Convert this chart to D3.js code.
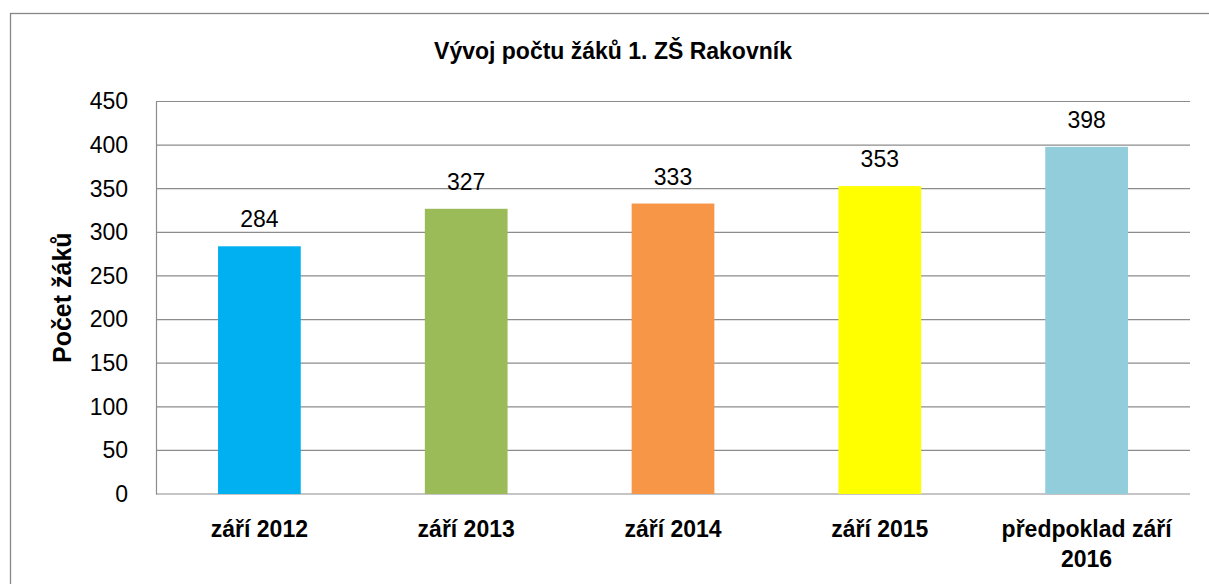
<!DOCTYPE html>
<html>
<head>
<meta charset="utf-8">
<script src="https://cdn.jsdelivr.net/npm/d3@7"></script>
<style>
  body { margin: 0; background: #fff; }
  text { font-family: "Liberation Sans", Arial, sans-serif; fill: #000; }
</style>
</head>
<body>
<script>
// Data
var categories = ['září 2012', 'září 2013', 'září 2014', 'září 2015', 'předpoklad září|2016'];
var values = [284, 327, 333, 353, 398];
var barColors = ['#00B0F0', '#9BBB59', '#F79646', '#FFFF00', '#92CDDC'];
var yTicks = [0, 50, 100, 150, 200, 250, 300, 350, 400, 450];
var chartTitle = 'Vývoj počtu žáků 1. ZŠ Rakovník';
var yTitle = 'Počet žáků';

// Dimensions
var W = 1209, H = 584;
var plot = {left: 156, right: 1190, top: 101.5, bottom: 494};

var svg = d3.select('body')
    .append('svg')
    .attr('width', W)
    .attr('height', H);

// Outer chart border
svg.append('rect')
    .attr('x', 10.5)
    .attr('y', 13.5)
    .attr('width', W + 20)
    .attr('height', H + 20)
    .attr('fill', 'none')
    .attr('stroke', '#868686')
    .attr('stroke-width', 1.3);

// Scales
var x = d3.scaleBand()
    .domain(categories)
    .range([plot.left, plot.right])
    .paddingInner(0.6)
    .paddingOuter(0.3);

var y = d3.scaleLinear()
    .domain([0, 450])
    .range([plot.bottom, plot.top]);

// Gridlines
svg.append('g')
    .selectAll('line')
    .data(yTicks)
    .enter()
    .append('line')
    .attr('x1', plot.left)
    .attr('x2', plot.right)
    .attr('y1', function(d) { return y(d); })
    .attr('y2', function(d) { return y(d); })
    .attr('stroke', '#8c8c8c')
    .attr('stroke-width', 1.2);

// Y axis
var yAxis = d3.axisLeft(y)
    .tickValues(yTicks)
    .tickSize(0)
    .tickPadding(28);

svg.append('g')
    .attr('transform', 'translate(' + plot.left + ',0)')
    .call(yAxis)
    .call(function(g) {
        g.select('.domain').attr('stroke', '#8c8c8c').attr('stroke-width', 1.2);
        g.selectAll('text')
            .attr('font-size', 23)
            .attr('font-family', '"Liberation Sans", Arial, sans-serif')
            .attr('fill', '#000');
    });

// Bars
svg.append('g')
    .selectAll('rect')
    .data(values)
    .enter()
    .append('rect')
    .attr('x', function(d, i) { return x(categories[i]); })
    .attr('width', x.bandwidth())
    .attr('y', function(d) { return y(d); })
    .attr('height', function(d) { return y(0) - y(d); })
    .attr('fill', function(d, i) { return barColors[i]; });

// Value labels
svg.append('g')
    .selectAll('text')
    .data(values)
    .enter()
    .append('text')
    .attr('x', function(d, i) { return x(categories[i]) + x.bandwidth() / 2; })
    .attr('y', function(d) { return y(d) - 19; })
    .attr('text-anchor', 'middle')
    .attr('font-size', 23)
    .text(function(d) { return d; });

// Category labels (| marks a line break)
var cat = svg.append('g')
    .selectAll('text')
    .data(categories)
    .enter()
    .append('text')
    .attr('x', function(d) { return x(d) + x.bandwidth() / 2; })
    .attr('y', 537)
    .attr('text-anchor', 'middle')
    .attr('font-size', 23)
    .attr('font-weight', 'bold');

cat.selectAll('tspan')
    .data(function(d) { return d.split('|'); })
    .enter()
    .append('tspan')
    .attr('x', function() { return d3.select(this.parentNode).attr('x'); })
    .attr('dy', function(d, i) { return i === 0 ? 0 : 30; })
    .text(function(d) { return d; });

// Title
svg.append('text')
    .attr('x', 613)
    .attr('y', 59)
    .attr('text-anchor', 'middle')
    .attr('font-size', 23)
    .attr('font-weight', 'bold')
    .text(chartTitle);

// Y axis title
svg.append('text')
    .attr('transform', 'translate(71,' + ((plot.top + plot.bottom) / 2) + ') rotate(-90)')
    .attr('text-anchor', 'middle')
    .attr('font-size', 25)
    .attr('font-weight', 'bold')
    .text(yTitle);
</script>
</body>
</html>
